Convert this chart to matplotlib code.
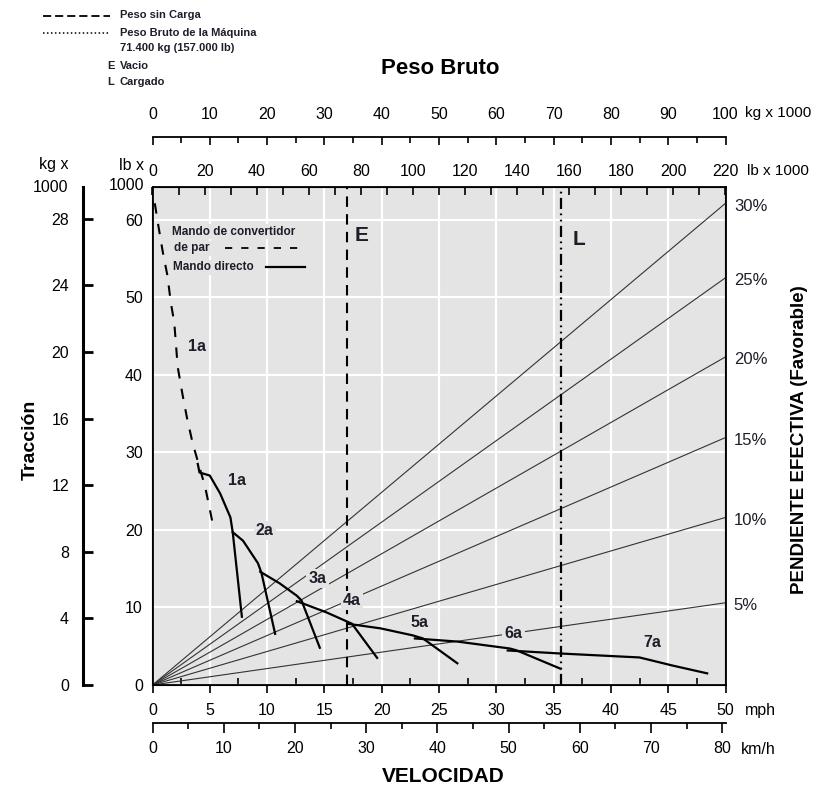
import matplotlib
matplotlib.use('Agg')
import matplotlib.pyplot as plt
from matplotlib.lines import Line2D
from matplotlib.ticker import MultipleLocator

NARROW = ['Liberation Sans Narrow', 'Liberation Sans', 'DejaVu Sans']
REG = ['Liberation Sans', 'DejaVu Sans']
plt.rcParams['font.family'] = NARROW

INK = '#1e1e2a'
BG = '#e4e4e4'

# values: speed in mph, rimpull in lb x 1000
conv_mph = [0.2, 0.5, 0.9, 1.3, 1.6, 1.9, 2.2, 2.6, 3.0, 3.5, 4.0, 4.6, 5.2]
conv_klb = [62.1, 59.3, 55.8, 52.8, 49.3, 46.7, 41.0, 37.6, 34.5, 31.2, 28.6, 25.5, 21.2]

gear_mph = [
    [3.95, 4.1, 5.0, 5.9, 6.8, 7.0, 7.8],
    [7.0, 7.9, 9.2, 9.5, 10.7],
    [9.4, 11.1, 12.6, 13.0, 14.6],
    [12.6, 15.2, 17.4, 19.6],
    [17.0, 19.9, 22.7, 23.6, 26.6],
    [22.9, 26.6, 31.2, 31.8, 35.6],
    [31.0, 35.6, 42.5, 45.4, 48.4],
]
gear_klb = [
    [28.5, 27.4, 27.0, 24.7, 21.6, 19.7, 8.8],
    [19.7, 18.6, 15.7, 14.5, 6.6],
    [14.6, 13.1, 11.5, 10.9, 4.8],
    [10.8, 9.35, 7.9, 3.5],
    [7.9, 7.3, 6.4, 6.0, 2.8],
    [6.0, 5.6, 4.7, 4.45, 2.1],
    [4.45, 4.06, 3.55, 2.5, 1.5],
]

label_names = ['1a', '1a', '2a', '3a', '4a', '5a', '6a', '7a']
label_mph = [3.9, 7.4, 9.8, 14.4, 17.4, 23.3, 31.5, 43.6]
label_klb = [43.7, 26.3, 19.9, 13.7, 10.9, 8.1, 6.6, 5.5]

grades = [5, 10, 15, 20, 25, 30]
grade_end_klb = [10.6, 21.6, 31.9, 42.3, 52.5, 62.1]

empty_klb = 74.6     # E
gross_klb = 157.0    # L

MPH_MAX = 50
LB_MAX = 220
KG_MAX = 100
KMH_PER_MPH = 1.609344
RIM_MAX = 64.2       # lb x 1000 at top of plot
RIM_KG_MAX = 29.9    # kg x 1000 scale as drawn on the left


def fx(px):
    return px / 817


def fy(py):
    return 1 - py / 791


fig = plt.figure(figsize=(8.17, 7.91), dpi=100)
L, B, W, H = fx(152.5), fy(685), 573 / 817, 498 / 791

# main chart
ax = fig.add_axes([L, B, W, H])
ax.set_facecolor(BG)
ax.set_xlim(0, MPH_MAX)
ax.set_ylim(0, RIM_MAX)
ax.xaxis.set_major_locator(MultipleLocator(5))
ax.xaxis.set_minor_locator(MultipleLocator(2.5))
ax.yaxis.set_major_locator(MultipleLocator(10))
ax.set_axisbelow(True)
ax.grid(True, which='major', color='white', lw=1.6)
ax.tick_params(axis='x', which='major', direction='out', length=6, width=1.2,
               labelsize=11.5, pad=7)
ax.tick_params(axis='x', which='minor', direction='in', length=5, width=1.2)
ax.tick_params(axis='y', length=0, labelsize=11.5, pad=7)
for s in ax.spines.values():
    s.set_linewidth(1.3)

# grade lines
for g, yend in zip(grades, grade_end_klb):
    ax.plot([0, MPH_MAX], [0, yend], color='#333333', lw=0.8, zorder=2)
    ax.annotate(f'{g}%', xy=(MPH_MAX, yend), xytext=(6, -2),
                textcoords='offset points', ha='left', va='center',
                fontsize=12, family=REG, color=INK, annotation_clip=False)

# rimpull curves
ax.plot(conv_mph, conv_klb, color='black', lw=1.5, dashes=(5, 5), zorder=3)
for xs, ys in zip(gear_mph, gear_klb):
    ax.plot(xs, ys, color='black', lw=1.6, zorder=3)

# weight lines (lb scale mapped onto the speed axis)
lb_to_x = MPH_MAX / LB_MAX
ax.axvline(empty_klb * lb_to_x, color='black', lw=1.5, dashes=(5, 3.5), zorder=3)
ax.axvline(gross_klb * lb_to_x, color='black', lw=1.6,
           dashes=(5, 2, 0.8, 2, 0.8, 2), zorder=3)
ax.text(empty_klb * lb_to_x + 1.3, 57.9, 'E', fontsize=15, fontweight='bold',
        family=REG, color=INK, ha='center', va='center')
ax.text(gross_klb * lb_to_x + 1.5, 57.4, 'L', fontsize=15, fontweight='bold',
        family=REG, color=INK, ha='center', va='center')

for name, x, y in zip(label_names, label_mph, label_klb):
    ax.text(x, y, name, ha='center', va='center', fontsize=11.5,
            fontweight='bold', color=INK, zorder=5,
            bbox=dict(fc=BG, ec='none', pad=1.5))

# inner legend
ax.text(0.034, 0.910, 'Mando de convertidor', transform=ax.transAxes,
        fontsize=8.5, fontweight='bold', color=INK, va='center', zorder=5,
        bbox=dict(fc=BG, ec='none', pad=1))
ax.text(0.0375, 0.877, 'de par', transform=ax.transAxes,
        fontsize=8.5, fontweight='bold', color=INK, va='center', zorder=5,
        bbox=dict(fc=BG, ec='none', pad=1))
ax.text(0.036, 0.839, 'Mando directo', transform=ax.transAxes,
        fontsize=8.5, fontweight='bold', color=INK, va='center', zorder=5,
        bbox=dict(fc=BG, ec='none', pad=1))
ax.plot([0.127, 0.266], [0.877, 0.877], transform=ax.transAxes,
        color='black', lw=1.3, dashes=(4, 5), zorder=5)
ax.plot([0.198, 0.266], [0.839, 0.839], transform=ax.transAxes,
        color='black', lw=1.6, zorder=5)

# top lb scale
ax_lb = ax.twiny()
ax_lb.set_xlim(0, LB_MAX)
ax_lb.xaxis.set_major_locator(MultipleLocator(20))
ax_lb.xaxis.set_minor_locator(MultipleLocator(10))
ax_lb.tick_params(which='major', direction='in', length=6, width=1.2,
                  labelsize=11.5, pad=6)
ax_lb.tick_params(which='minor', direction='in', length=6, width=1.2)

# floating kg scale above
ax_kgt = fig.add_axes([L, fy(137) - 0.02, W, 0.02])
ax_kgt.patch.set_visible(False)
for s in ['left', 'right', 'bottom']:
    ax_kgt.spines[s].set_visible(False)
ax_kgt.spines['top'].set_linewidth(1.3)
ax_kgt.set_xlim(0, KG_MAX)
ax_kgt.set_yticks([])
ax_kgt.xaxis.tick_top()
ax_kgt.xaxis.set_major_locator(MultipleLocator(10))
ax_kgt.xaxis.set_minor_locator(MultipleLocator(5))
ax_kgt.tick_params(which='major', direction='in', length=6, width=1.2,
                   labelsize=11.5, pad=11)
ax_kgt.tick_params(which='minor', direction='in', length=4, width=1.2)

# km/h scale below
ax_kmh = fig.add_axes([L, fy(723), W, 0.02])
ax_kmh.patch.set_visible(False)
for s in ['left', 'right', 'top']:
    ax_kmh.spines[s].set_visible(False)
ax_kmh.spines['bottom'].set_linewidth(1.3)
ax_kmh.set_xlim(0, MPH_MAX * KMH_PER_MPH)
ax_kmh.set_yticks([])
ax_kmh.xaxis.set_major_locator(MultipleLocator(10))
ax_kmh.xaxis.set_minor_locator(MultipleLocator(5))
ax_kmh.tick_params(which='major', direction='out', length=7, width=1.2,
                   labelsize=11.5, pad=6)
ax_kmh.tick_params(which='minor', direction='out', length=4, width=1.2)

# kg scale on the far left
ax_kg = fig.add_axes([fx(83), B, 0.02, H])
ax_kg.patch.set_visible(False)
for s in ['top', 'right', 'bottom']:
    ax_kg.spines[s].set_visible(False)
ax_kg.spines['left'].set_linewidth(2.2)
ax_kg.set_ylim(0, RIM_KG_MAX)
ax_kg.set_xticks([])
ax_kg.yaxis.set_major_locator(MultipleLocator(4))
ax_kg.tick_params(axis='y', direction='in', length=7, width=2,
                  labelsize=11.5, pad=10)

# axis names and units
fig.text(fx(440), fy(68), 'Peso Bruto', fontsize=16, fontweight='bold',
         ha='center', va='center')
fig.text(fx(443), fy(776), 'VELOCIDAD', fontsize=15, fontweight='bold',
         ha='center', va='center')
fig.text(fx(30), fy(440), 'Tracción', fontsize=14, fontweight='bold',
         family=REG, rotation=90, ha='center', va='center')
fig.text(fx(800), fy(440), 'PENDIENTE EFECTIVA (Favorable)', fontsize=13.5,
         fontweight='bold', family=REG, rotation=90, ha='center', va='center')
fig.text(fx(745), fy(113), 'kg x 1000', fontsize=11, va='center')
fig.text(fx(747), fy(171), 'lb x 1000', fontsize=11, va='center')
fig.text(fx(745), fy(710), 'mph', fontsize=11.5, va='center')
fig.text(fx(741), fy(750), 'km/h', fontsize=11.5, va='center')
fig.text(fx(68.5), fy(165), 'kg x', fontsize=11.5, ha='right', va='center')
fig.text(fx(68.5), fy(188), '1000', fontsize=11.5, ha='right', va='center')
fig.text(fx(144), fy(165), 'lb x', fontsize=11.5, ha='right', va='center')
fig.text(fx(144), fy(186), '1000', fontsize=11.5, ha='right', va='center')

# outer legend
fig.add_artist(Line2D([fx(43), fx(110)], [fy(16), fy(16)], color='black',
                      lw=1.3, dashes=(4.5, 2.2)))
fig.add_artist(Line2D([fx(43), fx(110)], [fy(33), fy(33)], color='black',
                      lw=1.1, dashes=(1, 1.6)))
small = dict(fontsize=8, fontweight='bold', va='center', color=INK)
fig.text(fx(120), fy(15), 'Peso sin Carga', **small)
fig.text(fx(120), fy(33), 'Peso Bruto de la Máquina', **small)
fig.text(fx(120), fy(48), '71.400 kg (157.000 lb)', **small)
fig.text(fx(107), fy(66), 'E', **small)
fig.text(fx(120), fy(66), 'Vacio', **small)
fig.text(fx(107), fy(82), 'L', **small)
fig.text(fx(120), fy(82), 'Cargado', **small)

fig.savefig('out.png', dpi=100)
